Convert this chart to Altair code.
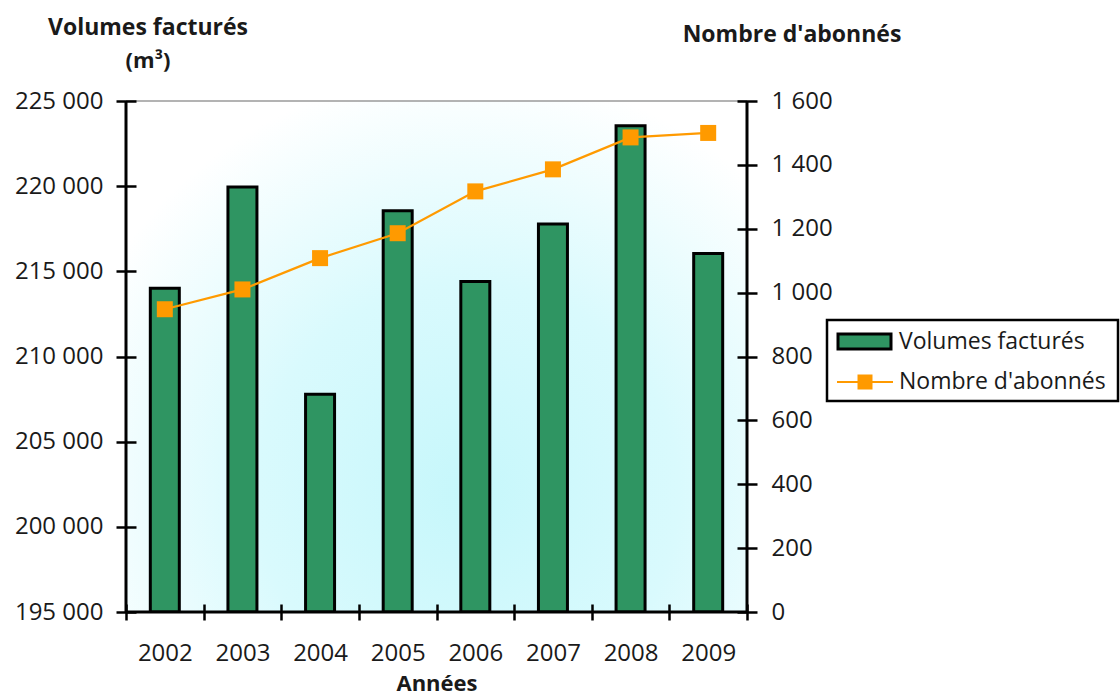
import altair as alt
import pandas as pd

# ---- data ----
years = ["2002", "2003", "2004", "2005", "2006", "2007", "2008", "2009"]
volumes = [214000, 219950, 207780, 218560, 214410, 217780, 223540, 216050]
abonnes = [948, 1010, 1108, 1186, 1317, 1386, 1486, 1500]
left_ticks = [195000, 200000, 205000, 210000, 215000, 220000, 225000]
right_ticks = [0, 200, 400, 600, 800, 1000, 1200, 1400, 1600]

W, H = 621, 511
FONT = "Open Sans"
GREEN = "#2f9562"
ORANGE = "#ff9a00"
TXT = "#1a1a1a"

df = pd.DataFrame({"annee": years, "volume": volumes, "abonnes": abonnes})
one = pd.DataFrame({"k": [0]})

fmt = "replace(format(datum.value, ','), ',', ' ')"

gradient = {
    "gradient": "radial",
    "x1": 0.55, "y1": 0.72, "r1": 0.0,
    "x2": 0.55, "y2": 0.72, "r2": 0.68,
    "stops": [
        {"offset": 0.0, "color": "#c6f7fb"},
        {"offset": 0.5, "color": "#d9fafd"},
        {"offset": 1.0, "color": "#ffffff"},
    ],
}

bg = alt.Chart(one).mark_rect(fill=gradient).encode(
    x=alt.value(0), x2=alt.value(W), y=alt.value(0), y2=alt.value(H)
)

x_enc = alt.X(
    "annee:N",
    sort=years,
    scale=alt.Scale(paddingInner=0, paddingOuter=0),
    axis=alt.Axis(
        title="Années",
        titleFont=FONT, titleFontSize=22, titleFontWeight="bold", titleColor=TXT,
        titlePadding=8,
        labelFont=FONT, labelFontSize=24, labelColor=TXT, labelAngle=0,
        labelPadding=21,
        tickBand="extent", tickSize=16, tickWidth=2.5, tickColor="black",
        domain=False, grid=False, offset=-8, zindex=1,
    ),
)

bars = alt.Chart(df).mark_bar(
    size=29, fill=GREEN, stroke="black", strokeWidth=3, clip=True
).encode(
    x=x_enc,
    y=alt.Y(
        "volume:Q",
        scale=alt.Scale(domain=[195000, 225000], zero=False, nice=False),
        axis=alt.Axis(
            title=None, values=left_ticks, labelExpr=fmt,
            labelFont=FONT, labelFontSize=24, labelColor=TXT, labelPadding=13,
            tickSize=20, tickWidth=2.5, tickColor="black",
            domain=False, grid=False, offset=-10, zindex=1,
        ),
    ),
    y2=alt.datum(195000),
)

line = alt.Chart(df).mark_line(
    color=ORANGE, strokeWidth=2.2,
    point=alt.OverlayMarkDef(shape="square", size=256, filled=True, fill=ORANGE, opacity=1),
).encode(
    x=alt.X("annee:N", sort=years),
    y=alt.Y(
        "abonnes:Q",
        scale=alt.Scale(domain=[0, 1600], nice=False),
        axis=alt.Axis(
            orient="right", title=None, values=right_ticks, labelExpr=fmt,
            labelFont=FONT, labelFontSize=24, labelColor=TXT, labelPadding=14,
            tickSize=20, tickWidth=2.5, tickColor="black",
            domain=False, grid=False, offset=-10, zindex=1,
        ),
    ),
)

# axis lines / frame
top_line = alt.Chart(one).mark_rule(color="#9a9a9a", strokeWidth=1.5).encode(
    x=alt.value(0), x2=alt.value(W), y=alt.value(0)
)
left_line = alt.Chart(one).mark_rule(color="black", strokeWidth=3).encode(
    x=alt.value(0), y=alt.value(0), y2=alt.value(H)
)
right_line = alt.Chart(one).mark_rule(color="black", strokeWidth=3).encode(
    x=alt.value(W), y=alt.value(0), y2=alt.value(H)
)
bottom_line = alt.Chart(one).mark_rule(color="black", strokeWidth=3).encode(
    x=alt.value(0), x2=alt.value(W), y=alt.value(H)
)

# axis titles above the plot
t_left1 = alt.Chart(one).mark_text(
    text="Volumes facturés", font=FONT, fontSize=23, fontWeight="bold",
    color=TXT, align="center", baseline="alphabetic",
).encode(x=alt.value(22), y=alt.value(-66))
t_left2 = alt.Chart(one).mark_text(
    text="(m³)", font=FONT, fontSize=22, fontWeight="bold",
    color=TXT, align="center", baseline="alphabetic",
).encode(x=alt.value(22), y=alt.value(-33))
t_right = alt.Chart(one).mark_text(
    text="Nombre d'abonnés", font=FONT, fontSize=23, fontWeight="bold",
    color=TXT, align="center", baseline="alphabetic",
).encode(x=alt.value(666), y=alt.value(-59))

# legend
lg_box = alt.Chart(one).mark_rect(fill="white", stroke="black", strokeWidth=2.5).encode(
    x=alt.value(701), x2=alt.value(992), y=alt.value(219), y2=alt.value(300)
)
lg_sym1 = alt.Chart(one).mark_rect(fill=GREEN, stroke="black", strokeWidth=3).encode(
    x=alt.value(712), x2=alt.value(765), y=alt.value(233), y2=alt.value(248)
)
lg_txt1 = alt.Chart(one).mark_text(
    text="Volumes facturés", font=FONT, fontSize=23, color=TXT,
    align="left", baseline="middle",
).encode(x=alt.value(773), y=alt.value(241))
lg_rule2 = alt.Chart(one).mark_rule(color=ORANGE, strokeWidth=2).encode(
    x=alt.value(711), x2=alt.value(767), y=alt.value(281)
)
lg_sq2 = alt.Chart(one).mark_point(
    shape="square", size=225, filled=True, color=ORANGE, opacity=1
).encode(x=alt.value(739), y=alt.value(281))
lg_txt2 = alt.Chart(one).mark_text(
    text="Nombre d'abonnés", font=FONT, fontSize=23, color=TXT,
    align="left", baseline="middle",
).encode(x=alt.value(773), y=alt.value(281))

chart = (
    alt.layer(
        bg, bars, line,
        top_line, left_line, right_line, bottom_line,
        t_left1, t_left2, t_right,
        lg_box, lg_sym1, lg_txt1, lg_rule2, lg_sq2, lg_txt2,
    )
    .resolve_scale(y="independent")
    .properties(
        width=W, height=H,
        padding={"left": 126, "top": 101, "right": 373, "bottom": 88},
        autosize=alt.AutoSizeParams(type="none"),
        background="white",
    )
    .configure_view(strokeWidth=0)
    .configure(font=FONT)
)

chart.save("out.html", embed_options={"renderer": "svg", "actions": False})
